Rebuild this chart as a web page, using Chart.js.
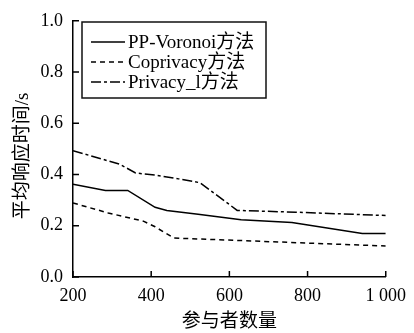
<!DOCTYPE html>
<html>
<head>
<meta charset="utf-8">
<script src="https://cdn.jsdelivr.net/npm/chart.js@4"></script>
<style>
  body { margin: 0; background: #fff; }
</style>
</head>
<body>
<canvas id="myChart" width="414" height="333"></canvas>
<script>
// series
const seriesNames = ['PP-Voronoi方法', 'Coprivacy方法', 'Privacy_l方法'];

const voronoiX = [200, 283, 340, 410, 440, 520, 630, 760, 940, 1000];
const voronoiY = [0.362, 0.338, 0.338, 0.272, 0.26, 0.245, 0.223, 0.213, 0.17, 0.17];

const coprivacyX = [200, 290, 380, 410, 458, 1000];
const coprivacyY = [0.289, 0.25, 0.218, 0.196, 0.152, 0.121];

const privacyX = [200, 320, 360, 410, 470, 525, 620, 770, 1000];
const privacyY = [0.493, 0.44, 0.406, 0.398, 0.383, 0.368, 0.26, 0.253, 0.24];

const xTicks = [200, 400, 600, 800, 1000];
const xTickLabels = ['200', '400', '600', '800', '1 000'];
const yTicks = [0, 0.2, 0.4, 0.6, 0.8, 1.0];
const yTickLabels = ['0.0', '0.2', '0.4', '0.6', '0.8', '1.0'];

const xTitle = '参与者数量';
const yTitle = '平均响应时间/s   ';

const FONT = "'Liberation Serif', 'Noto Sans CJK SC', serif";

function toPoints(xs, ys) {
    return xs.map((x, i) => ({x: x, y: ys[i]}));
}

const dashes = [[], [5, 4], [10, 3, 3, 3]];

const datasets = [
    toPoints(voronoiX, voronoiY),
    toPoints(coprivacyX, coprivacyY),
    toPoints(privacyX, privacyY)
].map((pts, i) => ({
    label: seriesNames[i],
    data: pts,
    borderColor: '#000',
    borderWidth: 1.5,
    borderDash: dashes[i],
    pointRadius: 0,
    fill: false,
    tension: 0
}));

// tick marks pointing into the plot
const innerTicks = {
    id: 'innerTicks',
    afterDraw(chart) {
        const ctx = chart.ctx;
        const xs = chart.scales.x, ys = chart.scales.y;
        const area = chart.chartArea;
        ctx.save();
        ctx.strokeStyle = '#000';
        ctx.lineWidth = 1.5;
        ctx.beginPath();
        xs.ticks.forEach(t => {
            const px = xs.getPixelForValue(t.value);
            ctx.moveTo(px, area.bottom);
            ctx.lineTo(px, area.bottom - 6);
        });
        ys.ticks.forEach(t => {
            const py = ys.getPixelForValue(t.value);
            ctx.moveTo(area.left, py);
            ctx.lineTo(area.left + 6, py);
        });
        ctx.stroke();
        ctx.restore();
    }
};

// boxed legend in the top left of the plot
const boxLegend = {
    id: 'boxLegend',
    afterDatasetsDraw(chart) {
        const ctx = chart.ctx;
        const left = 82, top = 22, w = 184, h = 76;
        ctx.save();
        ctx.fillStyle = '#fff';
        ctx.fillRect(left, top, w, h);
        ctx.strokeStyle = '#111';
        ctx.lineWidth = 1.5;
        ctx.strokeRect(left, top, w, h);
        ctx.font = '19px ' + FONT;
        ctx.textBaseline = 'middle';
        ctx.fillStyle = '#000';
        chart.data.datasets.forEach((ds, i) => {
            const y = 42 + i * 20;
            ctx.beginPath();
            ctx.setLineDash(ds.borderDash);
            ctx.lineWidth = 1.5;
            ctx.strokeStyle = '#000';
            ctx.moveTo(91, y);
            ctx.lineTo(125, y);
            ctx.stroke();
            ctx.setLineDash([]);
            ctx.fillText(ds.label, 128, y + 1);
        });
        ctx.restore();
    }
};

const ctx = document.getElementById('myChart').getContext('2d');

const myChart = new Chart(ctx, {
    type: 'line',
    data: { datasets: datasets },
    options: {
        responsive: false,
        animation: false,
        layout: { padding: { top: 16, right: 24, left: 0, bottom: 0 } },
        plugins: {
            legend: { display: false },
            tooltip: { enabled: false }
        },
        scales: {
            x: {
                type: 'linear',
                min: 200,
                max: 1000,
                afterBuildTicks: (scale) => { scale.ticks = xTicks.map(v => ({value: v})); },
                afterFit: (scale) => { scale.height = 56; },
                ticks: {
                    color: '#000',
                    font: { family: FONT, size: 18 },
                    padding: 8,
                    maxRotation: 0,
                    callback: (v) => xTickLabels[xTicks.indexOf(v)]
                },
                grid: { drawOnChartArea: false, drawTicks: false },
                border: { color: '#000', width: 1.5 },
                title: {
                    display: true,
                    text: xTitle,
                    color: '#000',
                    font: { family: FONT, size: 19 },
                    padding: { top: 0, bottom: 0 }
                }
            },
            y: {
                min: 0,
                max: 1,
                afterBuildTicks: (scale) => { scale.ticks = yTicks.map(v => ({value: v})); },
                afterFit: (scale) => { scale.width = 73; },
                ticks: {
                    color: '#000',
                    font: { family: FONT, size: 18 },
                    padding: 10,
                    callback: (v) => yTickLabels[yTicks.indexOf(v)]
                },
                grid: { drawOnChartArea: false, drawTicks: false },
                border: { color: '#000', width: 1.5 },
                title: {
                    display: true,
                    text: yTitle,
                    color: '#000',
                    font: { family: FONT, size: 19 },
                    padding: { top: 12, bottom: 0 }
                }
            }
        }
    },
    plugins: [innerTicks, boxLegend]
});
</script>
</body>
</html>
